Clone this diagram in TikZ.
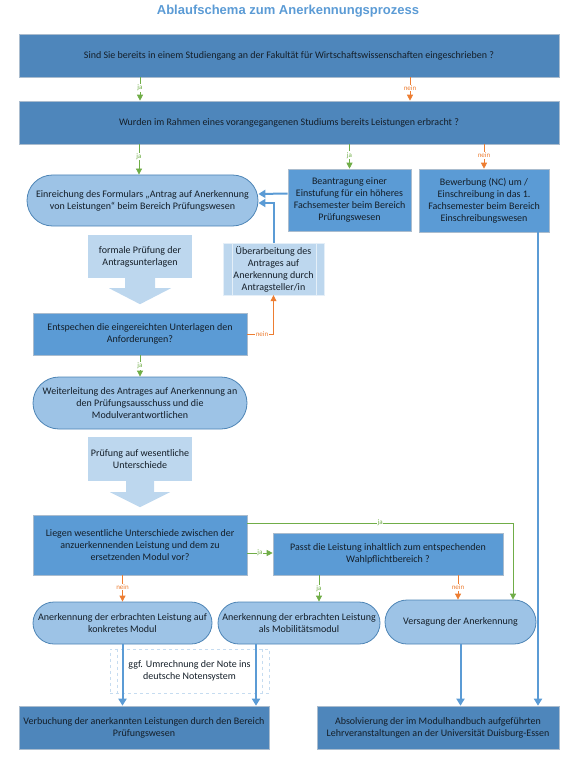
\documentclass[tikz,border=0pt]{standalone}
\usepackage{fontspec}
\setmainfont{Carlito}
\newfontfamily\titlefont{Liberation Sans}
\usepackage{tikz}
\usetikzlibrary{positioning}
\usetikzlibrary{calc}
\usetikzlibrary{arrows.meta,shapes.misc}

\definecolor{darkbox}{RGB}{78,134,187}
\definecolor{midbox}{RGB}{91,155,213}
\definecolor{softbox}{RGB}{157,195,230}
\definecolor{palebox}{RGB}{189,215,238}
\definecolor{jagreen}{RGB}{112,173,71}
\definecolor{neinorange}{RGB}{237,125,49}
\definecolor{flowblue}{RGB}{91,155,213}
\definecolor{edgegray}{RGB}{170,188,206}
\definecolor{inktext}{RGB}{20,30,40}

\tikzset{
  flowtext/.style={font=\fontsize{10}{12}\selectfont, text=inktext, align=center, inner sep=0pt},
  darkq/.style={flowtext, rectangle, fill=darkbox, draw=edgegray, line width=0.6pt},
  midq/.style={flowtext, rectangle, fill=midbox, draw=edgegray, line width=0.6pt},
  roundstep/.style={flowtext, rounded rectangle, fill=softbox, draw=flowblue!85!black, line width=0.8pt},
  palestep/.style={flowtext, rectangle, fill=palebox},
  jaline/.style={draw=jagreen, line width=0.8pt, -{Triangle[width=6pt,length=6pt]}},
  neinline/.style={draw=neinorange, line width=0.8pt, -{Triangle[width=6pt,length=6pt]}},
  flowline/.style={draw=flowblue, line width=2pt, -{Triangle[width=8pt,length=7pt]}},
  lbl/.style={font=\fontsize{7}{8}\selectfont, fill=white, inner sep=0.8pt},
}

\begin{document}
\begin{tikzpicture}[x=1pt,y=-1pt]
\useasboundingbox (0,0) rectangle (576,770);

% title
\node[font=\titlefont\bfseries\fontsize{13}{15}\selectfont, text=midbox] (title) at (288,11)
  {Ablaufschema zum Anerkennungsprozess};

% questions on top
\node[darkq, minimum width=540, minimum height=43] (q1) at (289,55.5)
  {Sind Sie bereits in einem Studiengang an der Fakultät für Wirtschaftswissenschaften eingeschrieben ?};
\node[darkq, minimum width=540, minimum height=43] (q2) at (289,122.5)
  {Wurden im Rahmen eines vorangegangenen Studiums bereits Leistungen erbracht ?};

% second row
\node[roundstep, minimum width=231, minimum height=51] (einr) at (142.5,200.5)
  {Einreichung des Formulars „Antrag auf Anerkennung\\von Leistungen“ beim Bereich Prüfungswesen};
\node[midq, minimum width=123, minimum height=62] (bean) at (349.5,200)
  {Beantragung einer\\Einstufung für ein höheres\\Fachsemester beim Bereich\\Prüfungswesen};
\node[midq, minimum width=130, minimum height=63] (bew) at (484,200.5)
  {Bewerbung (NC) um /\\Einschreibung in das 1.\\Fachsemester beim Bereich\\Einschreibungswesen};

% formal check
\node[palestep, minimum width=104, minimum height=43] (formal) at (140,256.5)
  {formale Prüfung der\\Antragsunterlagen};
\fill[palebox] ([xshift=-15]formal.south) -- ++(0,10) -- ++(-16,0) -- ([yshift=-26]formal.south)
  -- ([xshift=31,yshift=-10]formal.south) -- ++(-16,0) -- ++(0,-10) -- cycle;

\node[palestep, draw=white!60!palebox, minimum width=101, minimum height=52] (ueber) at (273.5,269)
  {Überarbeitung des\\Antrages auf\\Anerkennung durch\\Antragsteller/in};
\draw[white!60!palebox] ([xshift=9]ueber.north west) -- ([xshift=9]ueber.south west);
\draw[white!60!palebox] ([xshift=-8]ueber.north east) -- ([xshift=-8]ueber.south east);

\node[midq, minimum width=214, minimum height=42] (entspr) at (140,334)
  {Entspechen die eingereichten Unterlagen den\\Anforderungen?};

\node[roundstep, minimum width=214, minimum height=52] (weiter) at (140,403)
  {Weiterleitung des Antrages auf Anerkennung an\\den Prüfungsausschuss und die\\Modulverantwortlichen};

% check for differences
\node[palestep, minimum width=104, minimum height=44] (pruef) at (140,459)
  {Prüfung auf wesentliche\\Unterschiede};
\fill[palebox] ([xshift=-14]pruef.south) -- ++(0,11) -- ++(-16,0) -- ([yshift=-26]pruef.south)
  -- ([xshift=30,yshift=-11]pruef.south) -- ++(-16,0) -- ++(0,-11) -- cycle;

\node[midq, minimum width=214, minimum height=60] (liegen) at (140,545)
  {Liegen wesentliche Unterschiede zwischen der\\anzuerkennenden Leistung und dem zu\\ersetzenden Modul vor?};
\node[midq, minimum width=230, minimum height=42] (passt) at (388,554)
  {Passt die Leistung inhaltlich zum entspechenden\\Wahlpflichtbereich ?};

% results
\node[roundstep, minimum width=179, minimum height=42] (ankonk) at (122.5,623)
  {Anerkennung der erbrachten Leistung auf\\konkretes Modul};
\node[roundstep, minimum width=162, minimum height=42] (anmob) at (299,623)
  {Anerkennung der erbrachten Leistung\\als Mobilitätsmodul};
\node[roundstep, minimum width=151, minimum height=44] (vers) at (460.5,622)
  {Versagung der Anerkennung};

\node[flowtext, draw=flowblue!35, dashed, line width=0.8pt, minimum width=159, minimum height=44] (ggf) at (189.5,671)
  {ggf. Umrechnung der Note ins\\deutsche Notensystem};
\draw[flowblue!35, dashed, line width=0.8pt] ([xshift=8]ggf.north west) -- ([xshift=8]ggf.south west);
\draw[flowblue!35, dashed, line width=0.8pt] ([xshift=-7]ggf.north east) -- ([xshift=-7]ggf.south east);

% final boxes
\node[darkq, minimum width=250, minimum height=43] (verb) at (144,727.5)
  {Verbuchung der anerkannten Leistungen durch den Bereich\\Prüfungswesen};
\node[darkq, minimum width=242, minimum height=43] (absol) at (438,727.5)
  {Absolvierung der im Modulhandbuch aufgeführten\\Lehrveranstaltungen an der Universität Duisburg-Essen};

% ja / nein connectors
\draw[jaline] ([xshift=-149]q1.south) -- ([xshift=-149]q2.north) node[lbl, text=jagreen, pos=0.45] {ja};
\draw[neinline] ([xshift=121]q1.south) -- ([xshift=121]q2.north) node[lbl, text=neinorange, pos=0.45] {nein};
\draw[jaline] ([xshift=-150]q2.south) -- ([xshift=-3.5]einr.north) node[lbl, text=jagreen, pos=0.4] {ja};
\draw[jaline] (q2.south -| bean.north) -- (bean.north) node[lbl, text=jagreen, pos=0.45] {ja};
\draw[neinline] (q2.south -| bew.north) -- (bew.north) node[lbl, text=neinorange, pos=0.45] {nein};

\draw[neinline] (entspr.east) -| (ueber.south) node[lbl, text=neinorange, pos=0.28] {nein};
\draw[jaline] (entspr.south) -- (weiter.north) node[lbl, text=jagreen, pos=0.5] {ja};

\draw[jaline] ([yshift=-8]liegen.east) -- ([yshift=-8]liegen.east -| passt.west) node[lbl, text=jagreen, pos=0.5] {ja};
\draw[jaline] ([yshift=22]liegen.east) -| ([xshift=52.5]vers.north) node[lbl, text=jagreen, pos=0.25] {ja};
\draw[neinline] (liegen.south -| ankonk.north) -- (ankonk.north) node[lbl, text=neinorange, pos=0.45] {nein};
\draw[jaline] ([xshift=-69]passt.south) -- ([xshift=20]anmob.north) node[lbl, text=jagreen, pos=0.5] {ja};
\draw[neinline] ([xshift=70]passt.south) -- ([xshift=-2.5]vers.north) node[lbl, text=neinorange, pos=0.5] {nein};

% blue flow
\draw[flowline] ([yshift=6.5]bean.west) -- ([yshift=6.5]einr.east);
\draw[flowline] (ueber.north) |- ([yshift=-2.5]einr.east);
\draw[flowline] (ankonk.south) -- (ankonk.south |- verb.north);
\draw[flowline] ([xshift=-43]anmob.south) -- ([xshift=-43]anmob.south |- verb.north);
\draw[flowline] (vers.south) -- (vers.south |- absol.north);
\draw[flowline] ([xshift=54]bew.south) -- ([xshift=54]bew.south |- absol.north);

\end{tikzpicture}
\end{document}
